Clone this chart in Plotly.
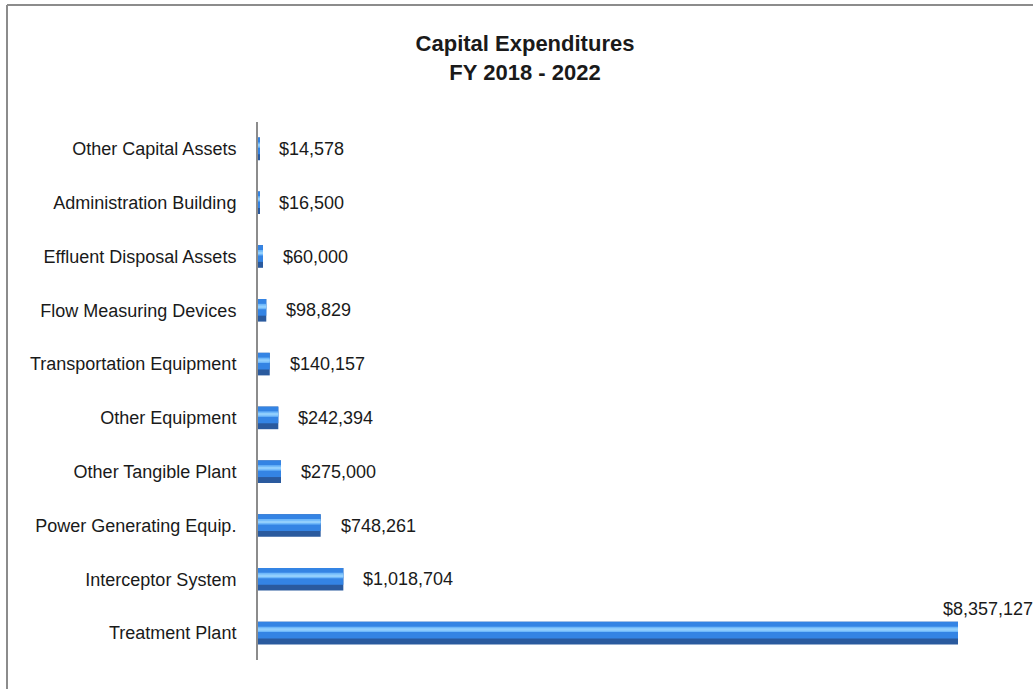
import plotly.graph_objects as go

# Capital expenditure categories, listed top to bottom as displayed
categories = [
    "Other Capital Assets",
    "Administration Building",
    "Effluent Disposal Assets",
    "Flow Measuring Devices",
    "Transportation Equipment",
    "Other Equipment",
    "Other Tangible Plant",
    "Power Generating Equip.",
    "Interceptor System",
    "Treatment Plant",
]
amounts = [14578, 16500, 60000, 98829, 140157, 242394, 275000, 748261, 1018704, 8357127]

FONT = "Liberation Sans, Arial, sans-serif"
TEXT = "#1a1a1a"
GRID = "#8c8c8c"

# Layered bars give each bar a bevelled, shaded look
layers = [
    dict(offset=-0.21, width=0.42, color="#2a5a9e"),
    dict(offset=-0.10, width=0.31, color="#3484e4"),
    dict(offset=0.02, width=0.10, color="#6fb8fa"),
    dict(offset=0.045, width=0.045, color="#92cffd"),
]

fig = go.Figure()
for ly in layers:
    fig.add_trace(go.Bar(
        x=amounts,
        y=categories,
        orientation="h",
        offset=ly["offset"],
        width=ly["width"],
        marker=dict(color=ly["color"], line=dict(width=0)),
        hoverinfo="skip",
        showlegend=False,
    ))

# Value labels just beyond each bar end; the largest one sits above its bar
for cat, val in zip(categories, amounts):
    big = val == max(amounts)
    fig.add_annotation(
        x=val, y=cat, xref="x", yref="y",
        text=f"${val:,}",
        showarrow=False,
        xanchor="left", yanchor="middle",
        xshift=-17 if big else 18,
        yshift=24 if big else 0,
        font=dict(family=FONT, size=18, color=TEXT),
    )

# Plot area spans pixels x 258..1000 and y 122..660
px_l, px_r, px_t, px_b = 258, 1000, 122, 660


def paper_x(px):
    return (px - px_l) / (px_r - px_l)


def paper_y(py):
    return (px_b - py) / (px_b - px_t)


# Chart frame: top and left edges visible
fig.add_shape(type="line", xref="paper", yref="paper",
              x0=paper_x(7), x1=paper_x(1100), y0=paper_y(5), y1=paper_y(5),
              line=dict(color=GRID, width=2))
fig.add_shape(type="line", xref="paper", yref="paper",
              x0=paper_x(7), x1=paper_x(7), y0=paper_y(5), y1=paper_y(760),
              line=dict(color=GRID, width=2))

x_max = (px_r - px_l) / 700 * max(amounts)

fig.update_layout(
    width=1033, height=689,
    barmode="overlay",
    paper_bgcolor="white",
    plot_bgcolor="white",
    margin=dict(l=px_l, r=1033 - px_r, t=px_t, b=689 - px_b, pad=0),
    title=dict(
        text="<b>Capital Expenditures</b><br><b>FY 2018 - 2022</b>",
        x=525 / 1033, xref="container", xanchor="center",
        y=1 - 51 / 689, yref="container", yanchor="middle",
        font=dict(family=FONT, size=22, color=TEXT),
    ),
    xaxis=dict(
        range=[0, x_max],
        visible=False,
        fixedrange=True,
    ),
    yaxis=dict(
        type="category",
        categoryorder="array",
        categoryarray=categories[::-1],
        range=[-0.5, len(categories) - 0.5],
        showline=True,
        linecolor=GRID,
        linewidth=2,
        showgrid=False,
        ticks="",
        ticklabelstandoff=16,
        tickfont=dict(family=FONT, size=18, color=TEXT),
        fixedrange=True,
    ),
)

fig.write_html("out.html")
